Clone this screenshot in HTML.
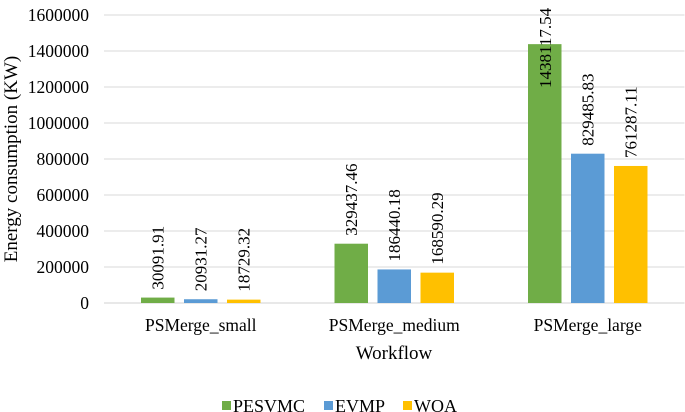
<!DOCTYPE html>
<html><head><meta charset="utf-8"><style>
body{margin:0;background:#fff}
svg{display:block}
svg text{font-family:"Liberation Serif","DejaVu Serif","Times New Roman",serif}
</style></head><body>
<svg id="chart" width="685" height="412" viewBox="0 0 685 412"></svg>
<script>
const categories=["PSMerge_small","PSMerge_medium","PSMerge_large"];
const seriesNames=["PESVMC","EVMP","WOA"];
const pesvmc=[30091.91,329437.46,1438117.54];
const evmp=[20931.27,186440.18,829485.83];
const woa=[18729.32,168590.29,761287.11];
const yTicks=[0,200000,400000,600000,800000,1000000,1200000,1400000,1600000];
const colors=["#70ad47","#5b9bd5","#ffc000"];
const svg=document.getElementById('chart');
const NS="http://www.w3.org/2000/svg";
const FF='"Liberation Serif","DejaVu Serif",serif';
const x0=104,x1=684.5,yBase=303,yTop=15,yMax=1600000;
const y=v=>yBase-(v/yMax)*(yBase-yTop);
const bw=(x1-x0)/categories.length;
const barW=33.5,gap=9.5;
function mk(t,a,txt){const e=document.createElementNS(NS,t);for(const k in a)e.setAttribute(k,a[k]);if(t==='text')e.setAttribute('font-family',FF);if(txt!==undefined)e.textContent=txt;svg.appendChild(e);return e;}
yTicks.forEach(v=>{
 const g=mk('line',{x1:x0,x2:x1,y1:y(v),y2:y(v),stroke:v===0?'#d0d0d0':'#d9d9d9','stroke-width':1});
 
 
 const t=mk('text',{x:89,y:y(v)+6,'text-anchor':'end','font-size':17.5,fill:'#000'},String(v));
 
 
});
const all=[pesvmc,evmp,woa];
categories.forEach((c,i)=>{
 const cx=x0+bw*(i+0.5);
 all.forEach((s,j)=>{
  const bx=cx+(j-1)*(barW+gap)-barW/2;
  const r=mk('rect',{x:bx,y:y(s[i]),width:barW,height:yBase-y(s[i]),fill:colors[j]});
  
  
  const lx=bx+barW/2+6;
  let ly=Math.max(y(s[i])-8,88);
  const l=mk('text',{x:lx,y:ly,'font-size':17,transform:`rotate(-90 ${lx} ${ly})`},s[i].toFixed(2));
  
  
 });
 const t=mk('text',{x:cx,y:331,'text-anchor':'middle','font-size':17.5},c);
 
 
});
const xt=mk('text',{x:394,y:359,'text-anchor':'middle','font-size':19},"Workflow");


const yt=mk('text',{x:0,y:0,'text-anchor':'middle','font-size':19,transform:'translate(17 159) rotate(-90)'},"Energy consumption (KW)");


const lx=[222,324,403];
seriesNames.forEach((n,j)=>{
 const s=mk('rect',{x:lx[j],y:401,width:9,height:9,fill:colors[j]});
 
 
 const t=mk('text',{x:lx[j]+11,y:412,'font-size':18},n);
 
 
});
</script>
</body></html>
